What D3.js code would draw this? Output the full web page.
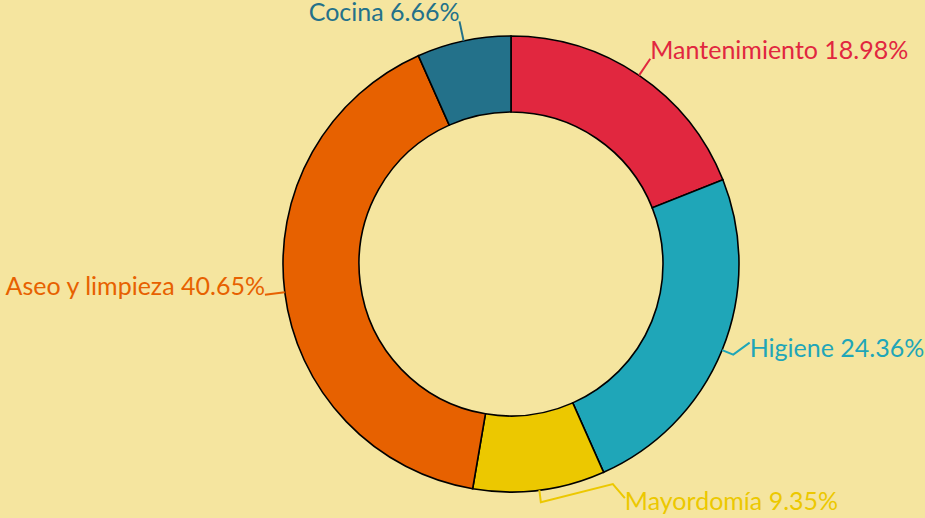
<!DOCTYPE html>
<html>
<head>
<meta charset="utf-8">
<script src="https://cdn.jsdelivr.net/npm/d3@7"></script>
<style>
  html, body { margin: 0; padding: 0; background: #f5e59f; }
  svg { display: block; }
</style>
</head>
<body>
<div id="chart"></div>
<script>
// data
const categories = ["Mantenimiento", "Higiene", "Mayordomía", "Aseo y limpieza", "Cocina"];
const values = [18.98, 24.36, 9.35, 40.65, 6.66];
const colors = ["#e1273f", "#1fa6b8", "#ecc800", "#e76100", "#23718a"];

// a couple of labels were pushed aside so they don't overlap
const labelNudge = {
    "Higiene": { dx: 9, dy: -15, textDy: 14 },
    "Mayordomía": { dx: 83, dy: -12, textDy: 12, kink: [-12, -14] }
};

function drawChart() {
    const width = 925, height = 518;
    const cx = 511, cy = 264;
    const outer = 228, inner = 152, labelR = 248;

    const svg = d3.select("#chart").append("svg")
        .attr("width", width)
        .attr("height", height);

    const g = svg.append("g").attr("transform", `translate(${cx},${cy})`);

    const color = d3.scaleOrdinal().domain(categories).range(colors);
    const pie = d3.pie().sort(null).value(d => d.value);
    const arc = d3.arc().innerRadius(inner).outerRadius(outer);

    const data = categories.map((c, i) => ({ name: c, value: values[i] }));
    const arcs = pie(data);

    g.selectAll("path.slice")
        .data(arcs)
        .join("path")
        .attr("class", "slice")
        .attr("d", arc)
        .attr("fill", d => color(d.data.name))
        .attr("stroke", "#000")
        .attr("stroke-width", 1.6);

    const polar = (r, a) => [r * Math.sin(a), -r * Math.cos(a)];

    arcs.forEach(d => {
        const mid = (d.startAngle + d.endAngle) / 2;
        const nudge = labelNudge[d.data.name] || { dx: 0, dy: 0, textDy: 0 };
        const p0 = polar(outer, mid);
        const base = polar(labelR, mid);
        const anchor = [base[0] + nudge.dx, base[1] + nudge.dy];
        let pts = [p0];
        if (nudge.dx || nudge.dy) pts.push(polar(outer + 12, mid));
        if (nudge.kink) pts.push([anchor[0] + nudge.kink[0], anchor[1] + nudge.kink[1]]);
        pts.push(anchor);

        g.append("polyline")
            .attr("points", pts.map(p => p.join(",")).join(" "))
            .attr("fill", "none")
            .attr("stroke", color(d.data.name))
            .attr("stroke-width", 2);

        const right = Math.sin(mid) >= 0;
        g.append("text")
            .attr("x", anchor[0])
            .attr("y", anchor[1] + nudge.textDy)
            .attr("text-anchor", right ? "start" : "end")
            .attr("fill", color(d.data.name))
            .attr("font-family", "Lato, 'Noto Sans', sans-serif")
            .attr("font-size", "25px")
            .text(`${d.data.name} ${d.data.value.toFixed(2)}%`);
    });
}

drawChart();
</script>
</body>
</html>
